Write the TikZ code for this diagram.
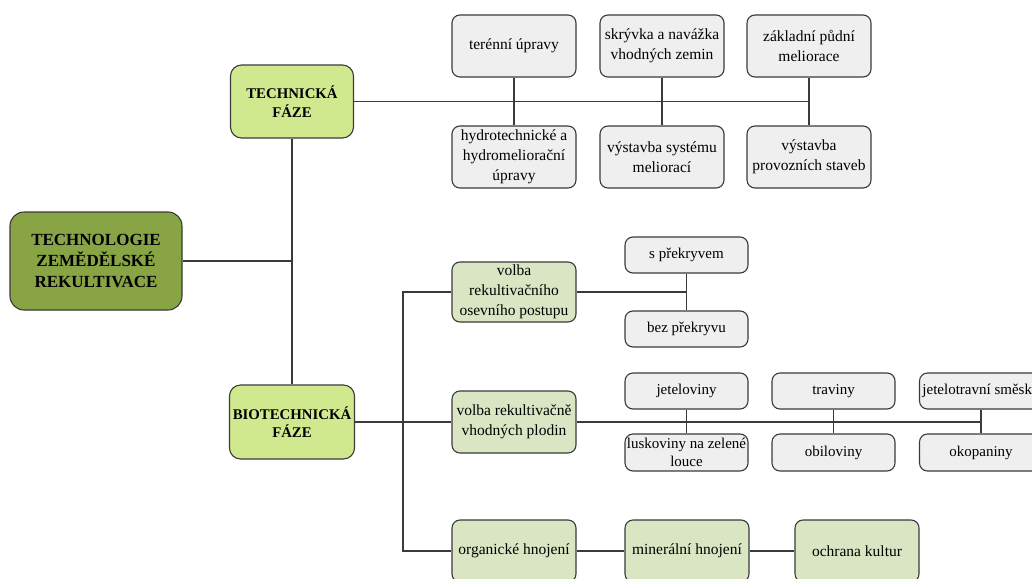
\documentclass[tikz,border=0pt]{standalone}
\usepackage{fontspec}
\setmainfont{Liberation Serif}
\definecolor{linec}{HTML}{3A3A3A}
\definecolor{darkgreen}{HTML}{88A445}
\definecolor{phasegreen}{HTML}{D0E98E}
\definecolor{palegreen}{HTML}{DAE6C3}
\definecolor{greyfill}{HTML}{EFEFEF}
\tikzset{
  base/.style={draw=linec, line width=1.1pt, rounded corners=8pt, align=center, inner sep=0.5pt, font=\fontsize{15.5}{20}\selectfont},
  greybox/.style={base, fill=greyfill, minimum width=124pt, minimum height=62pt},
  smallbox/.style={base, fill=greyfill, minimum width=123pt, minimum height=36pt, font=\fontsize{15}{18}\selectfont},
  greenbox/.style={base, fill=palegreen, minimum width=124pt, minimum height=62pt},
  phasebox/.style={base, fill=phasegreen, rounded corners=11pt, minimum width=123pt, minimum height=73pt, font=\fontsize{14.8}{18.5}\selectfont\bfseries},
  mainbox/.style={base, fill=darkgreen, rounded corners=14pt, minimum width=172pt, minimum height=98pt, font=\fontsize{17}{21}\selectfont\bfseries},
  conn/.style={draw=linec, line width=1.1pt}
}
\begin{document}
\begin{tikzpicture}[x=1pt, y=-1pt]
\useasboundingbox (0,0) rectangle (1032,578);
\clip (0,0) rectangle (1032,578);
\fill[white] (0,0) rectangle (1032,578);
% nodes
\node[mainbox] (main) at (96,261) {TECHNOLOGIE\\ZEMĚDĚLSKÉ\\REKULTIVACE};
\node[phasebox] (tech) at (292,101.5) {TECHNICKÁ\\FÁZE};
\node[phasebox, minimum width=125pt, minimum height=74pt] (bio) at (292,422) {BIOTECHNICKÁ\\FÁZE};
\node[greybox] (teren) at (514,46) {terénní úpravy};
\node[greybox] (skryv) at (662,46) {skrývka a navážka\\vhodných zemin};
\node[greybox] (zakl) at (809,46) {základní půdní\\meliorace};
\node[greybox] (hydro) at (514,157) {hydrotechnické a\\hydromeliorační\\úpravy};
\node[greybox] (vyst1) at (662,157) {výstavba systému\\meliorací};
\node[greybox] (vyst2) at (809,157) {výstavba\\provozních staveb};
\node[greenbox, minimum height=60pt] (osev) at (514,292) {volba\\rekultivačního\\osevního postupu};
\node[greenbox] (plod) at (514,422) {volba rekultivačně\\vhodných plodin};
\node[greenbox] (org) at (514,551) {organické hnojení};
\node[greenbox] (miner) at (687,551) {minerální hnojení};
\node[greenbox] (ochr) at (857,551) {ochrana kultur};
\node[smallbox] (spr) at (686.5,255) {s překryvem};
\node[smallbox] (bez) at (686.5,329) {bez překryvu};
\node[smallbox] (jet) at (686.5,391) {jeteloviny};
\node[smallbox, minimum height=37pt] (lusk) at (686.5,452.5) {luskoviny na zelené\\louce};
\node[smallbox] (trav) at (833.5,391) {traviny};
\node[smallbox, minimum height=37pt] (obil) at (833.5,452.5) {obiloviny};
\node[smallbox] (jts) at (981,391) {jetelotravní směsky};
\node[smallbox, minimum height=37pt] (okop) at (981,452.5) {okopaniny};
% connectors
\draw[conn] (main.east) -- (main.east -| tech.south);
\draw[conn] (tech.south) -- (bio.north);
\draw[conn] (tech.east) -- (tech.east -| zakl.south);
\draw[conn] (teren.south) -- (hydro.north);
\draw[conn] (skryv.south) -- (vyst1.north);
\draw[conn] (zakl.south) -- (vyst2.north);
\draw[conn] (bio.east) -- (plod.west);
\coordinate (bt) at (403,292);
\draw[conn] (osev.west) -- (bt) |- (org.west);
\draw[conn] (osev.east) -- (osev.east -| spr.south);
\draw[conn] (spr.south) -- (bez.north);
\draw[conn] (plod.east) -- (plod.east -| okop.north);
\draw[conn] (jet.south) -- (lusk.north);
\draw[conn] (trav.south) -- (obil.north);
\draw[conn] (jts.south) -- (okop.north);
\draw[conn] (org.east) -- (miner.west);
\draw[conn] (miner.east) -- (ochr.west);
\end{tikzpicture}
\end{document}
